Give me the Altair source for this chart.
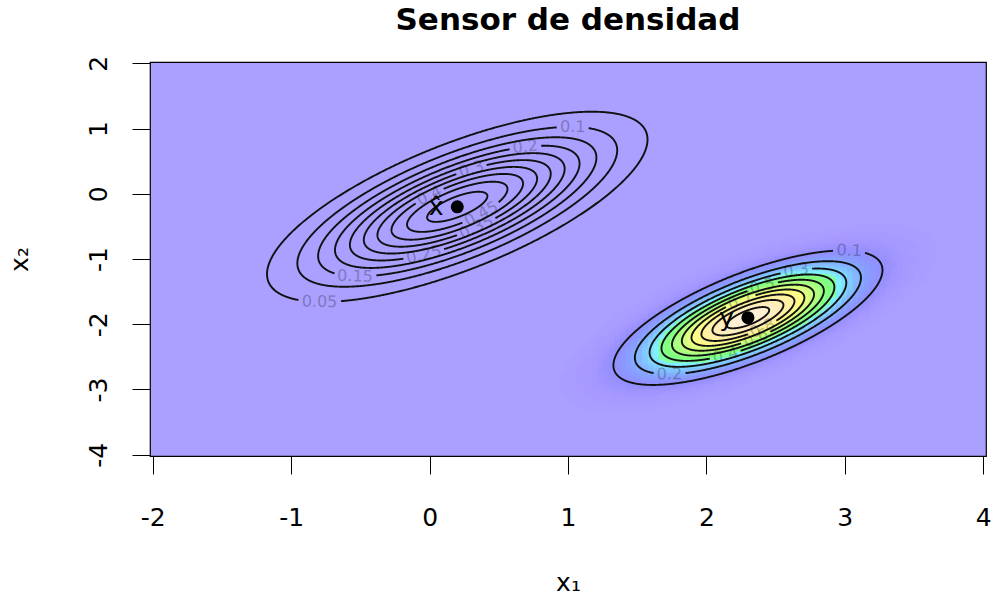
import colorsys

import altair as alt
import numpy as np
import pandas as pd

# ---------------------------------------------------------------------------
# Model: prior estimate x_hat and sensor reading y, both bivariate normals
# ---------------------------------------------------------------------------
x1_limits = [-2.0, 4.0]
x2_limits = [-4.0, 2.0]
grid_size = 151

prior_mean = [0.2, -0.2]
prior_cov = [[0.4, 0.3], [0.3, 0.45]]
sensor_mean = [2.3, -1.9]
sensor_cov = [[0.2, 0.15], [0.15, 0.225]]

prior_levels = [0.05, 0.1, 0.15, 0.2, 0.25, 0.3, 0.35, 0.4, 0.45, 0.5]
sensor_levels = [0.1, 0.2, 0.3, 0.4, 0.5, 0.6, 0.7, 0.8, 0.9, 1.0]

point_x1 = [0.2, 2.3]
point_x2 = [-0.2, -1.9]
point_text = ["x\u0302", "y"]
point_text_x1 = [0.1, 2.2]
point_text_x2 = [-0.2, -1.9]

x1_ticks = [-2, -1, 0, 1, 2, 3, 4]
x2_ticks = [-4, -3, -2, -1, 0, 1, 2]
title_text = "Sensor de densidad"

# where each contour label sits (approximate spot, snapped onto its contour)
prior_label_spots = {
    0.05: (-0.79, -1.65), 0.1: (0.99, 0.96), 0.15: (-0.50, -1.21),
    0.2: (0.67, 0.68), 0.25: (-0.05, -0.96), 0.3: (0.31, 0.42),
    0.35: (0.34, -0.52), 0.4: (0.0, -0.03), 0.45: (0.44, -0.35),
}
sensor_label_spots = {
    0.1: (2.99, -0.93), 0.2: (1.75, -2.74), 0.3: (2.64, -1.19),
    0.4: (2.15, -2.43), 0.5: (2.41, -1.39), 0.6: (2.37, -2.28),
    0.7: (2.23, -1.56), 0.8: (2.45, -2.13),
}

# ---------------------------------------------------------------------------
# Plot geometry
# ---------------------------------------------------------------------------
PLOT_W, PLOT_H = 836, 394
half_cell = (x1_limits[1] - x1_limits[0]) / (grid_size - 1) / 2
x_dom = [x1_limits[0] - half_cell, x1_limits[1] + half_cell]
y_dom = [x2_limits[0] - half_cell, x2_limits[1] + half_cell]
sx = PLOT_W / (x_dom[1] - x_dom[0])
sy = PLOT_H / (y_dom[1] - y_dom[0])

FONT = "DejaVu Sans"
LABEL_SIZE = 16
BASE_TINT = (170, 160, 255)  # lavender of the low-density end


def topo_colors(n, alpha):
    """Topographic colour ramp (as R's topo.colors) composited over white;
    the purple-blue stretch eases in from a soft lavender."""
    j = n // 3
    k = n // 3
    i = n - j - k
    hsv = [(h, 1.0, 1.0) for h in np.linspace(43 / 60, 31 / 60, i)]
    hsv += [(h, 1.0, 1.0) for h in np.linspace(23 / 60, 11 / 60, j)]
    hsv += [(h, s, 1.0) for h, s in zip(np.linspace(10 / 60, 6 / 60, k),
                                        np.linspace(1.0, 0.3, k))]
    out = []
    for idx, (h, s, v) in enumerate(hsv):
        r, g, b = colorsys.hsv_to_rgb(h, s, v)
        rgb = [255 * (alpha * c + (1 - alpha)) for c in (r, g, b)]
        if idx < i:
            w = (1 - idx / (i - 1)) ** 2.5
            rgb = [w * t + (1 - w) * c for t, c in zip(BASE_TINT, rgb)]
        out.append("#%02x%02x%02x" % tuple(round(c) for c in rgb))
    return out


palette = topo_colors(100, 0.5)


def density(xx, yy, mean, cov):
    cov = np.asarray(cov)
    inv = np.linalg.inv(cov)
    dx = xx - mean[0]
    dy = yy - mean[1]
    q = inv[0, 0] * dx * dx + 2 * inv[0, 1] * dx * dy + inv[1, 1] * dy * dy
    return np.exp(-q / 2) / (2 * np.pi * np.sqrt(np.linalg.det(cov)))


# ---------------------------------------------------------------------------
# Heat map of the sensor density (cells of the lowest colour are the view fill)
# ---------------------------------------------------------------------------
gx = np.linspace(x1_limits[0], x1_limits[1], grid_size)
gy = np.linspace(x2_limits[0], x2_limits[1], grid_size)
GX, GY = np.meshgrid(gx, gy)
Z = density(GX, GY, sensor_mean, sensor_cov)
zmin, zmax = float(Z.min()), float(Z.max())
step = (zmax - zmin) / len(palette)
keep = Z >= zmin + step
ex, ey = 0.004, 0.008  # slight overlap so neighbouring cells leave no seams
cells = pd.DataFrame({
    "x1": GX[keep] - half_cell - ex, "x1b": GX[keep] + half_cell + ex,
    "x2": GY[keep] - half_cell - ey, "x2b": GY[keep] + half_cell + ey,
    "z": Z[keep],
})


# ---------------------------------------------------------------------------
# Contour ellipses with a gap where each label is written
# ---------------------------------------------------------------------------
def label_width(text):
    return sum(0.318 if ch == "." else 0.636 for ch in text) * LABEL_SIZE


def contours(name, mean, cov, levels, spots):
    mean = np.asarray(mean, dtype=float)
    cov = np.asarray(cov, dtype=float)
    L = np.linalg.cholesky(cov)
    peak = 1 / (2 * np.pi * np.sqrt(np.linalg.det(cov)))
    lines, labels = [], []
    for lev in levels:
        r = np.sqrt(-2 * np.log(lev / peak))
        spot = spots.get(lev)
        if spot is not None:
            w = np.linalg.solve(L, np.asarray(spot) - mean)
            t0 = np.arctan2(w[1], w[0])
        else:
            t0 = 0.0
        t = t0 + np.linspace(0, 2 * np.pi, 1201)
        pts = mean[:, None] + r * L @ np.vstack([np.cos(t), np.sin(t)])
        lo, hi = 0, len(t) - 1
        if spot is not None:
            text = f"{lev:g}"
            gap = label_width(text) / 2 + 3
            px = (pts[0] - pts[0, 0]) * sx
            py = (pts[1] - pts[1, 0]) * sy
            d = np.hypot(px, py)
            while lo < hi and d[lo] < gap:
                lo += 1
            while hi > lo and d[hi] < gap:
                hi -= 1
            tan = r * L @ np.array([-np.sin(t0), np.cos(t0)])
            ang = np.degrees(np.arctan2(-tan[1] * sy, tan[0] * sx))
            if ang > 90:
                ang -= 180
            if ang <= -90:
                ang += 180
            labels.append({"x1": pts[0, 0], "x2": pts[1, 0], "text": text,
                           "ang": ang % 360})
        for k in range(lo, hi + 1):
            lines.append({"x1": pts[0, k], "x2": pts[1, k],
                          "curve": f"{name}-{lev:g}", "ord": k})
    return lines, labels


p_lines, p_labels = contours("prior", prior_mean, prior_cov, prior_levels,
                             prior_label_spots)
s_lines, s_labels = contours("sensor", sensor_mean, sensor_cov, sensor_levels,
                             sensor_label_spots)
line_df = pd.DataFrame(p_lines + s_lines)
label_df = pd.DataFrame(p_labels + s_labels)
points_df = pd.DataFrame({"x1": point_x1, "x2": point_x2})
text_df = pd.DataFrame({"x1": point_text_x1, "x2": point_text_x2,
                        "text": point_text})
title_df = pd.DataFrame({"text": [title_text]})

# ---------------------------------------------------------------------------
# Scales and axes
# ---------------------------------------------------------------------------
x_scale = alt.Scale(domain=x_dom, nice=False, zero=False)
y_scale = alt.Scale(domain=y_dom, nice=False, zero=False)

x_axis = alt.Axis(
    values=x1_ticks, tickCount=len(x1_ticks),
    labelExpr="'' + datum.value", domain=False, grid=False,
    tickSize=18, tickColor="black", tickWidth=1,
    labelFont=FONT, labelFontSize=25, labelColor="black",
    labelAlign="center", labelBaseline="alphabetic", labelPadding=51,
    labelFlush=False, labelOverlap=False,
    title="x\u2081", titleFont=FONT, titleFontSize=25,
    titleFontWeight="normal", titleColor="black",
    titleAlign="center", titleBaseline="alphabetic",
    titleX=PLOT_W / 2, titleY=134,
)
y_axis = alt.Axis(
    values=x2_ticks, tickCount=len(x2_ticks),
    labelExpr="'' + datum.value", domain=False, grid=False,
    tickSize=18, tickColor="black", tickWidth=1,
    labelFont=FONT, labelFontSize=25, labelColor="black", labelAngle=270,
    labelAlign="center", labelBaseline="alphabetic", labelPadding=26,
    labelFlush=False, labelOverlap=False,
    title="x\u2082", titleFont=FONT, titleFontSize=25,
    titleFontWeight="normal", titleColor="black", titleAngle=270,
    titleAlign="center", titleBaseline="alphabetic",
    titleX=-123, titleY=PLOT_H / 2,
)

X = alt.X("x1:Q", scale=x_scale, axis=x_axis)
Y = alt.Y("x2:Q", scale=y_scale, axis=y_axis)

heat = alt.Chart(cells).mark_rect(strokeWidth=0).encode(
    x=X, x2="x1b:Q", y=Y, y2="x2b:Q",
    color=alt.Color("z:Q", scale=alt.Scale(type="quantize",
                                           domain=[zmin, zmax],
                                           range=palette),
                    legend=None),
)

lines = alt.Chart(line_df).mark_line(
    color="#111111", strokeWidth=1.9, interpolate="linear"
).encode(x=X, y=Y, detail="curve:N", order="ord:Q")

level_labels = alt.Chart(label_df).mark_text(
    font=FONT, fontSize=LABEL_SIZE, color="#000000", opacity=0.25,
    align="center", baseline="middle",
).encode(x=X, y=Y, text="text:N", angle=alt.Angle("ang:Q", scale=None))

dots = alt.Chart(points_df).mark_circle(
    size=170, color="black", opacity=1
).encode(x=X, y=Y)

dot_text = alt.Chart(text_df).mark_text(
    font=FONT, fontSize=25, color="black", align="right", baseline="middle",
).encode(x=X, y=Y, text="text:N")

# chart heading, centred over the plot area
heading = alt.Chart(title_df).mark_text(
    font=FONT, fontSize=31, fontWeight="bold", color="black",
    align="center", baseline="alphabetic",
).encode(x=alt.value(PLOT_W / 2), y=alt.value(-32), text="text:N")

chart = alt.layer(heat, lines, level_labels, dots, dot_text, heading).properties(
    width=PLOT_W,
    height=PLOT_H,
    background="white",
    autosize=alt.AutoSizeParams(type="none"),
    padding={"left": 150, "top": 62, "right": 7, "bottom": 144},
).configure_view(
    fill=palette[0], stroke="black", strokeWidth=1.2,
)

chart.save("out.html", embed_options={"renderer": "svg", "actions": False})
